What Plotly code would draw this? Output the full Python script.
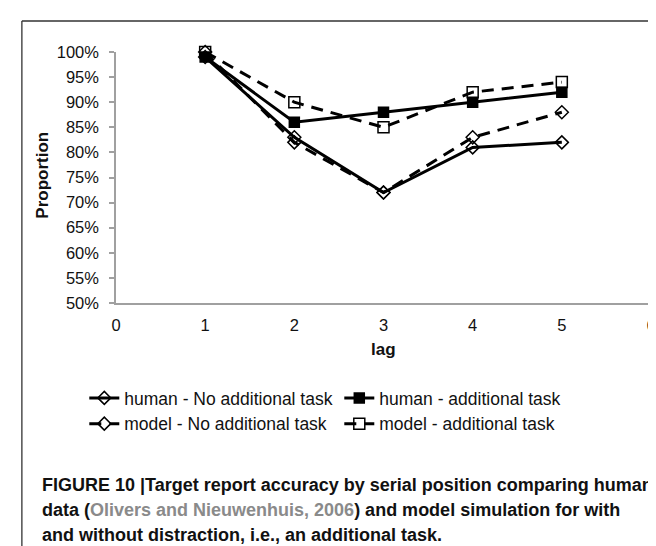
import plotly.graph_objects as go

lags = [1, 2, 3, 4, 5]
human_no_task = [0.99, 0.83, 0.72, 0.81, 0.82]
human_task = [0.99, 0.86, 0.88, 0.90, 0.92]
model_no_task = [1.00, 0.82, 0.72, 0.83, 0.88]
model_task = [1.00, 0.90, 0.85, 0.92, 0.94]

series_names = [
    "human - No additional task",
    "human - additional task",
    "model - No additional task",
    "model - additional task",
]
x_ticks = [0, 1, 2, 3, 4, 5, 6]
y_ticks = [0.50, 0.55, 0.60, 0.65, 0.70, 0.75, 0.80, 0.85, 0.90, 0.95, 1.00]

W, H = 656, 546
L, R, T, B = 108, 8, 44, 251
PW, PH = W - L - R, H - T - B


def px(xp):
    return (xp - L) / PW


def py(yp):
    return (H - B - yp) / PH


fig = go.Figure()
styles = [
    (human_no_task, "solid", "diamond-open", 10, "black"),
    (human_task, "solid", "square", 10, "black"),
    (model_no_task, "12px,8px", "diamond-open", 10, "black"),
    (model_task, "12px,8px", "square-open", 11, "black"),
]
for name, (vals, dash, sym, size, col) in zip(series_names, styles):
    fig.add_trace(go.Scatter(
        x=lags, y=vals, name=name, mode="lines+markers",
        line=dict(color="black", width=3, dash=dash),
        marker=dict(symbol=sym, size=size, color=col,
                    line=dict(color="black", width=1.5)),
        cliponaxis=False,
    ))

fig.update_layout(
    width=W, height=H, autosize=False,
    margin=dict(l=L, r=R, t=T, b=B, pad=0),
    paper_bgcolor="white", plot_bgcolor="white",
    font=dict(family="Liberation Sans, Arial, sans-serif", size=16, color="#111"),
    showlegend=True,
    legend=dict(
        orientation="h", x=px(76), xanchor="left", y=py(372), yanchor="top",
        font=dict(size=17.5, color="#111"),
        entrywidth=210, entrywidthmode="pixels",
        bgcolor="rgba(0,0,0,0)", tracegroupgap=0,
    ),
    xaxis=dict(
        range=[0, 6], tickvals=x_ticks, ticktext=[str(v) for v in x_ticks],
        showline=True, linecolor="#a0a0a0", linewidth=1.5,
        showgrid=False, zeroline=False, ticks="", ticklabelstandoff=6,
        tickfont=dict(size=16.5, color="#111"),
    ),
    yaxis=dict(
        range=[0.5, 1.0], tickvals=y_ticks,
        ticktext=[f"{round(v*100)}%" for v in y_ticks],
        showline=True, linecolor="#a0a0a0", linewidth=1.5,
        showgrid=False, zeroline=False, ticks="outside", ticklen=5,
        tickcolor="#a0a0a0", tickwidth=1.5, ticklabelstandoff=7,
        tickfont=dict(size=16.5, color="#111"),
    ),
)

anns = [
    dict(text="<b>Proportion</b>", x=px(33), y=py(167), textangle=-90,
         font=dict(size=17, color="#111")),
    dict(text="<b>lag</b>", x=3, xref="x", y=py(341), font=dict(size=17, color="#111")),
]
cap_font = dict(family="Liberation Sans, Arial, sans-serif", size=18, color="#111")
cap_lines = [
    ("<b>FIGURE 10 |Target report accuracy by serial position comparing human</b>", 477),
    ("<b>data (<span style='color:#8a8a8a'>Olivers and Nieuwenhuis, 2006</span>) and model simulation for with</b>", 502),
    ("<b>and without distraction, i.e., an additional task.</b>", 527),
]
for txt, yy in cap_lines:
    anns.append(dict(text=txt, x=px(31), y=py(yy), xanchor="left", yanchor="middle",
                     font=cap_font))
for a in anns:
    a.setdefault("xref", "paper")
    a.setdefault("yref", "paper")
    a.setdefault("showarrow", False)
    a.setdefault("xanchor", "center")
    a.setdefault("yanchor", "middle")
fig.update_layout(annotations=anns)

fig.update_layout(shapes=[
    dict(type="line", xref="paper", yref="paper", x0=px(13), x1=px(W + 5), y0=py(13), y1=py(13),
         line=dict(color="#333", width=1.3)),
    dict(type="line", xref="paper", yref="paper", x0=px(13), x1=px(13), y0=py(13), y1=py(H + 5),
         line=dict(color="#333", width=1.3)),
])

fig.write_html("out.html")
